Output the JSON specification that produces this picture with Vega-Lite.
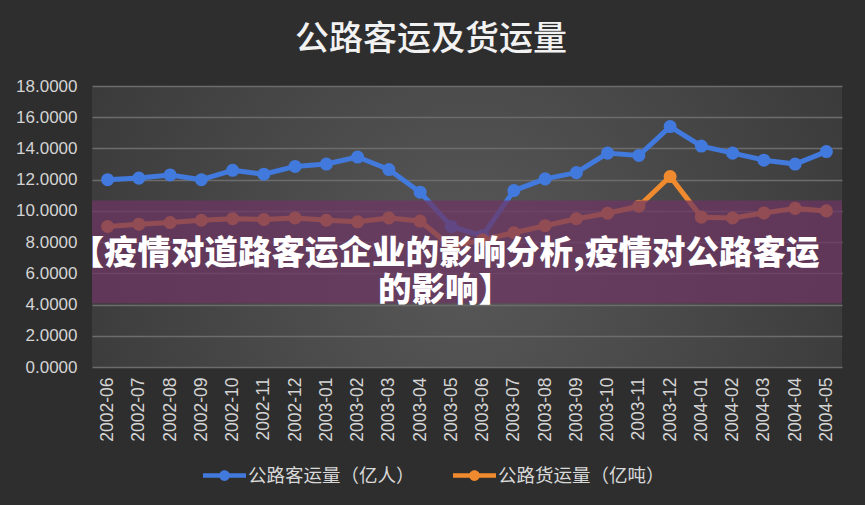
{
  "$schema": "https://vega.github.io/schema/vega-lite/v6.json",
  "autosize": {"type": "none"},
  "width": 750,
  "height": 281,
  "padding": {"left": 92, "top": 86, "right": 23, "bottom": 138},
  "background": "#2e2e2e",
  "title": {
    "text": "公路客运及货运量",
    "font": "Noto Sans CJK SC",
    "fontSize": 34,
    "fontWeight": 500,
    "color": "#f2f2f2",
    "frame": "group",
    "anchor": "middle",
    "offset": 20,
    "dx": -36
  },
  "data": {
    "values": [
      {"month": "2002-06", "series": "公路客运量（亿人）", "value": 12.0},
      {"month": "2002-07", "series": "公路客运量（亿人）", "value": 12.1},
      {"month": "2002-08", "series": "公路客运量（亿人）", "value": 12.3},
      {"month": "2002-09", "series": "公路客运量（亿人）", "value": 12.0},
      {"month": "2002-10", "series": "公路客运量（亿人）", "value": 12.6},
      {"month": "2002-11", "series": "公路客运量（亿人）", "value": 12.35},
      {"month": "2002-12", "series": "公路客运量（亿人）", "value": 12.85},
      {"month": "2003-01", "series": "公路客运量（亿人）", "value": 13.0},
      {"month": "2003-02", "series": "公路客运量（亿人）", "value": 13.45},
      {"month": "2003-03", "series": "公路客运量（亿人）", "value": 12.65},
      {"month": "2003-04", "series": "公路客运量（亿人）", "value": 11.2},
      {"month": "2003-05", "series": "公路客运量（亿人）", "value": 9.0},
      {"month": "2003-06", "series": "公路客运量（亿人）", "value": 8.4},
      {"month": "2003-07", "series": "公路客运量（亿人）", "value": 11.3},
      {"month": "2003-08", "series": "公路客运量（亿人）", "value": 12.05},
      {"month": "2003-09", "series": "公路客运量（亿人）", "value": 12.45},
      {"month": "2003-10", "series": "公路客运量（亿人）", "value": 13.7},
      {"month": "2003-11", "series": "公路客运量（亿人）", "value": 13.55},
      {"month": "2003-12", "series": "公路客运量（亿人）", "value": 15.4},
      {"month": "2004-01", "series": "公路客运量（亿人）", "value": 14.15},
      {"month": "2004-02", "series": "公路客运量（亿人）", "value": 13.7},
      {"month": "2004-03", "series": "公路客运量（亿人）", "value": 13.25},
      {"month": "2004-04", "series": "公路客运量（亿人）", "value": 13.0},
      {"month": "2004-05", "series": "公路客运量（亿人）", "value": 13.8},
      {"month": "2002-06", "series": "公路货运量（亿吨）", "value": 9.0},
      {"month": "2002-07", "series": "公路货运量（亿吨）", "value": 9.15},
      {"month": "2002-08", "series": "公路货运量（亿吨）", "value": 9.25},
      {"month": "2002-09", "series": "公路货运量（亿吨）", "value": 9.4},
      {"month": "2002-10", "series": "公路货运量（亿吨）", "value": 9.5},
      {"month": "2002-11", "series": "公路货运量（亿吨）", "value": 9.45},
      {"month": "2002-12", "series": "公路货运量（亿吨）", "value": 9.55},
      {"month": "2003-01", "series": "公路货运量（亿吨）", "value": 9.4},
      {"month": "2003-02", "series": "公路货运量（亿吨）", "value": 9.3},
      {"month": "2003-03", "series": "公路货运量（亿吨）", "value": 9.55},
      {"month": "2003-04", "series": "公路货运量（亿吨）", "value": 9.35},
      {"month": "2003-05", "series": "公路货运量（亿吨）", "value": 7.7},
      {"month": "2003-06", "series": "公路货运量（亿吨）", "value": 8.15},
      {"month": "2003-07", "series": "公路货运量（亿吨）", "value": 8.6},
      {"month": "2003-08", "series": "公路货运量（亿吨）", "value": 9.05},
      {"month": "2003-09", "series": "公路货运量（亿吨）", "value": 9.5},
      {"month": "2003-10", "series": "公路货运量（亿吨）", "value": 9.85},
      {"month": "2003-11", "series": "公路货运量（亿吨）", "value": 10.3},
      {"month": "2003-12", "series": "公路货运量（亿吨）", "value": 12.2},
      {"month": "2004-01", "series": "公路货运量（亿吨）", "value": 9.6},
      {"month": "2004-02", "series": "公路货运量（亿吨）", "value": 9.55},
      {"month": "2004-03", "series": "公路货运量（亿吨）", "value": 9.87},
      {"month": "2004-04", "series": "公路货运量（亿吨）", "value": 10.16},
      {"month": "2004-05", "series": "公路货运量（亿吨）", "value": 10.0}
    ]
  },
  "layer": [
    {
      "encoding": {
        "x": {
          "field": "month",
          "type": "ordinal",
          "sort": null,
          "scale": {"type": "point", "padding": 0.5},
          "axis": {
            "title": null,
            "labelAngle": -90,
            "labelFontSize": 17.5,
            "labelColor": "#d4d4d4",
            "labelPadding": 10,
            "ticks": false,
            "domain": false,
            "grid": false
          }
        },
        "y": {
          "field": "value",
          "type": "quantitative",
          "scale": {"domain": [0, 18], "nice": false, "zero": true},
          "axis": {
            "title": null,
            "values": [0, 2, 4, 6, 8, 10, 12, 14, 16, 18],
            "format": ".4f",
            "labelFontSize": 17,
            "labelColor": "#d4d4d4",
            "labelPadding": 15,
            "labelOverlap": false,
            "ticks": false,
            "domain": false,
            "grid": true,
            "gridColor": "#6c6c6c",
            "gridWidth": 1.5
          }
        },
        "color": {
          "field": "series",
          "type": "nominal",
          "sort": null,
          "scale": {"domain": ["公路客运量（亿人）", "公路货运量（亿吨）"], "range": ["#4279dc", "#f08a2e"]},
          "legend": {
            "title": null,
            "orient": "none",
            "legendX": 111,
            "legendY": 368,
            "direction": "horizontal",
            "symbolType": "M-1,-0.1 L1,-0.1 L1,0.1 L-1,0.1 Z M0.25,0 A0.25,0.25 0 1,1 -0.25,0 A0.25,0.25 0 1,1 0.25,0 Z",
            "symbolSize": 1849,
            "symbolStrokeWidth": 0,
            "labelFont": "Noto Sans CJK SC",
            "labelFontSize": 18.5,
            "labelColor": "#d9d9d9",
            "labelOffset": 2,
            "labelLimit": 400,
            "columnPadding": 38
          }
        }
      },
      "layer": [
        {"mark": {"type": "line", "strokeWidth": 5, "strokeCap": "round", "strokeJoin": "round"}},
        {"mark": {"type": "point", "filled": true, "opacity": 1, "size": 170, "shape": "circle"}}
      ]
    },
    {
      "data": {"values": [{"band": "banner"}]},
      "mark": {"type": "rect", "color": "#6e3462", "opacity": 0.72},
      "encoding": {
        "y": {
          "datum": 10.67,
          "type": "quantitative",
          "axis": {
            "title": null,
            "values": [0, 2, 4, 6, 8, 10, 12, 14, 16, 18],
            "format": ".4f",
            "labelFontSize": 17,
            "labelColor": "#d4d4d4",
            "labelPadding": 15,
            "labelOverlap": false,
            "ticks": false,
            "domain": false,
            "grid": true,
            "gridColor": "#6c6c6c",
            "gridWidth": 1.5
          }
        },
        "y2": {"datum": 4.09}
      }
    },
    {
      "data": {"values": [{"band": "banner"}]},
      "mark": {
        "type": "text",
        "text": ["【疫情对道路客运企业的影响分析,疫情对公路客运", "的影响】"],
        "font": "Noto Sans CJK SC",
        "fontWeight": 900,
        "fontSize": 33.5,
        "lineHeight": 37,
        "color": "#ffffff",
        "align": "center",
        "baseline": "middle",
        "dx": -22
      },
      "encoding": {
        "y": {
          "datum": 7.25,
          "type": "quantitative",
          "axis": {
            "title": null,
            "values": [0, 2, 4, 6, 8, 10, 12, 14, 16, 18],
            "format": ".4f",
            "labelFontSize": 17,
            "labelColor": "#d4d4d4",
            "labelPadding": 15,
            "labelOverlap": false,
            "ticks": false,
            "domain": false,
            "grid": true,
            "gridColor": "#6c6c6c",
            "gridWidth": 1.5
          }
        }
      }
    }
  ],
  "config": {
    "font": "Liberation Sans",
    "view": {
      "stroke": null,
      "fill": {
        "gradient": "radial",
        "x1": 0.5, "y1": 0.55, "x2": 0.5, "y2": 0.55,
        "r1": 0, "r2": 0.75,
        "stops": [
          {"offset": 0, "color": "#585858"},
          {"offset": 1, "color": "#303030"}
        ]
      }
    }
  }
}
